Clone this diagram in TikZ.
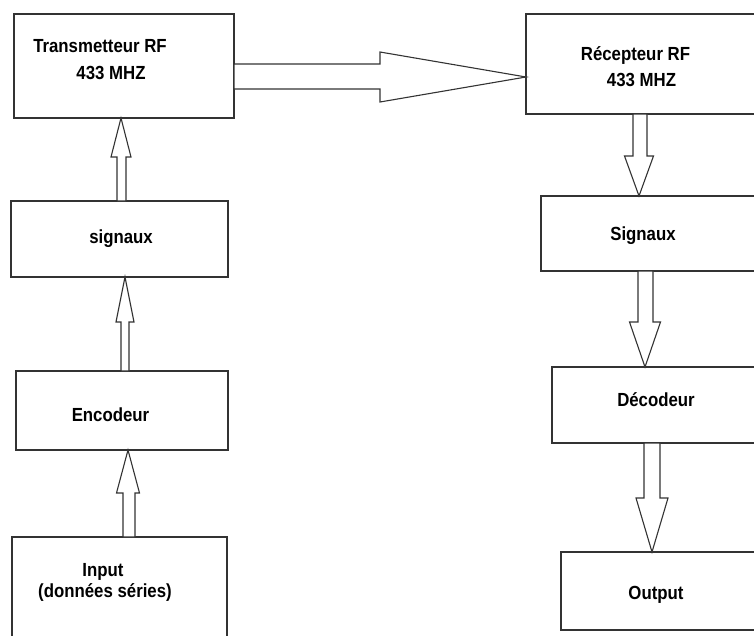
\documentclass[tikz,border=0pt]{standalone}
\usepackage{fontspec}
\setmainfont{Liberation Sans}
\usetikzlibrary{calc}
\definecolor{edge}{HTML}{333333}
\tikzset{
  box/.style={draw=edge, line width=1.7pt, fill=white, inner sep=0pt, outer sep=0pt, anchor=north west},
  blk/.style={draw=edge, line width=1.1pt, fill=white, line join=miter},
  txt/.style={anchor=base, inner sep=0pt, font=\fontsize{16.8}{20}\selectfont\bfseries}
}
\newcommand\stretchy[1]{\scalebox{1}[1.13]{#1}}
% vertical block arrow pointing up
\newcommand\uparr[5]{%
  \draw[blk] let \p1=(#1), \p2=(#2) in
    (\x1-#3pt,\y1) -- (\x1-#3pt,\y2-#5pt) -- (\x2-#4pt,\y2-#5pt) -- (\x2,\y2)
    -- (\x2+#4pt,\y2-#5pt) -- (\x1+#3pt,\y2-#5pt) -- (\x1+#3pt,\y1) -- cycle;}
% vertical block arrow pointing down
\newcommand\downarr[5]{%
  \draw[blk] let \p1=(#1), \p2=(#2) in
    (\x1-#3pt,\y1) -- (\x1-#3pt,\y2+#5pt) -- (\x2-#4pt,\y2+#5pt) -- (\x2,\y2)
    -- (\x2+#4pt,\y2+#5pt) -- (\x1+#3pt,\y2+#5pt) -- (\x1+#3pt,\y1) -- cycle;}
% horizontal block arrow pointing right
\newcommand\rightarr[5]{%
  \draw[blk] let \p1=(#1), \p2=(#2) in
    (\x1,\y1+#3pt) -- (\x2-#5pt,\y1+#3pt) -- (\x2-#5pt,\y2+#4pt) -- (\x2,\y2)
    -- (\x2-#5pt,\y2-#4pt) -- (\x2-#5pt,\y1-#3pt) -- (\x1,\y1-#3pt) -- cycle;}
\begin{document}
\begin{tikzpicture}[x=1pt,y=-1pt]
\useasboundingbox (0,0) rectangle (754,635);
\fill[white] (0,0) rectangle (754,635);
\clip (0,0) rectangle (754,635);

% boxes
\node[box, minimum width=220pt, minimum height=104pt] (tx)  at (14,14)  {};
\node[box, minimum width=239pt, minimum height=100pt] (rx)  at (526,14) {};
\node[box, minimum width=217pt, minimum height=76pt]  (sl)  at (11,201) {};
\node[box, minimum width=224pt, minimum height=75pt]  (rs)  at (541,196) {};
\node[box, minimum width=212pt, minimum height=79pt]  (enc) at (16,371) {};
\node[box, minimum width=213pt, minimum height=76pt]  (dec) at (552,367) {};
\node[box, minimum width=215pt, minimum height=108pt] (inp) at (12,537) {};
\node[box, minimum width=204pt, minimum height=78pt]  (out) at (561,552) {};

% texts
\node[txt] (t1a) at (100,52)   {\stretchy{Transmetteur RF}};
\node[txt] (t1b) at (111,79)   {\stretchy{433 MHZ}};
\node[txt] (t2a) at (635.5,60) {\stretchy{Récepteur RF}};
\node[txt] (t2b) at (641.5,86) {\stretchy{433 MHZ}};
\node[txt] (t3)  at (121,243)  {\stretchy{signaux}};
\node[txt] (t4)  at (643,240)  {\stretchy{Signaux}};
\node[txt] (t5)  at (110.5,421){\stretchy{Encodeur}};
\node[txt] (t6)  at (656,406.5){\stretchy{Décodeur}};
\node[txt] (t7a) at (103,576)  {\stretchy{Input}};
\node[txt] (t7b) at (105,597)  {\stretchy{(données séries)}};
\node[txt] (t8)  at (656,599)  {\stretchy{Output}};

% block arrows
\rightarr{[yshift=-10.5pt]tx.east}{[yshift=-13pt]rx.west}{12.5}{25}{146}
\uparr{[xshift=2pt]sl.north}{[xshift=-3pt]tx.south}{4.5}{10}{39}
\uparr{[xshift=3pt]enc.north}{[xshift=5.5pt]sl.south}{4}{9}{45}
\uparr{[xshift=9.5pt]inp.north}{[xshift=6pt]enc.south}{6}{11.5}{43}
\downarr{[xshift=-5.5pt]rx.south}{[xshift=-14pt]rs.north}{7}{14.5}{40}
\downarr{[xshift=-7.5pt]rs.south}{[xshift=-13.5pt]dec.north}{7.5}{15.5}{45}
\downarr{[xshift=-6.5pt]dec.south}{[xshift=-11pt]out.north}{8}{16}{54}
\end{tikzpicture}
\end{document}
